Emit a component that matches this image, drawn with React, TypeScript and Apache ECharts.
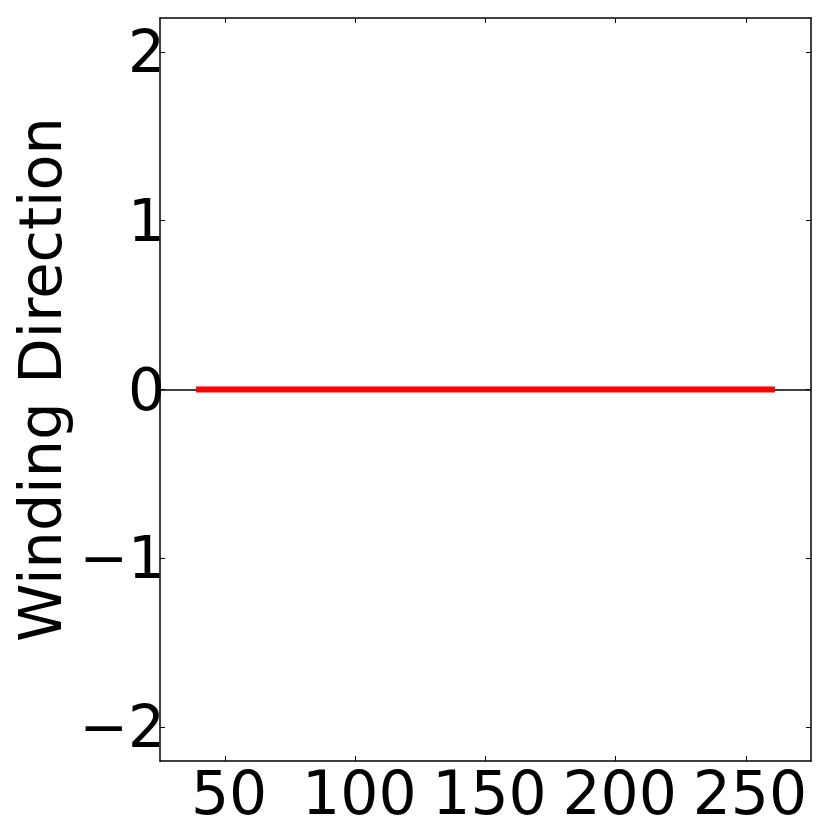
import React, { useEffect, useRef } from "react";
import * as echarts from "echarts";

const xTicks = [50, 100, 150, 200, 250];
const yTicks = [-2, -1, 0, 1, 2];
const xLimits = [25, 275];
const yLimits = [-2.2, 2.2];
const windingX = [40, 260];
const windingY = [0, 0];
const yLabel = "Winding Direction";

const FONT = "DejaVu Sans";

export default function App() {
  const ref = useRef<HTMLDivElement>(null);
  useEffect(() => {
    const chart = echarts.init(ref.current!, null, { renderer: "svg" });
    const axisLine = { show: true, onZero: false, lineStyle: { color: "#000", width: 1.5 } };
    const tickStyle = { color: "#000", width: 1 };
    const minus = (v: number) => String(v).replace("-", "\u2212");
    chart.setOption({
      animation: false,
      backgroundColor: "#fff",
      grid: {
        left: 160,
        top: 18,
        width: 651,
        height: 743,
        containLabel: false,
        outerBoundsMode: "none",
      },
      xAxis: [
        {
          type: "value",
          min: xLimits[0],
          max: xLimits[1],
          position: "bottom",
          axisLine,
          splitLine: { show: false },
          axisTick: { show: true, inside: true, length: 5, lineStyle: tickStyle, customValues: xTicks },
          axisLabel: {
            show: true,
            customValues: xTicks,
            fontFamily: FONT,
            fontSize: 60,
            color: "#000",
            margin: 2,
            padding: [0, 0, 0, 8],
          },
        },
        {
          type: "value",
          min: xLimits[0],
          max: xLimits[1],
          position: "top",
          axisLine,
          splitLine: { show: false },
          axisTick: { show: true, inside: true, length: 5, lineStyle: tickStyle, customValues: xTicks },
          axisLabel: { show: false },
        },
      ],
      yAxis: [
        {
          type: "value",
          min: yLimits[0],
          max: yLimits[1],
          position: "left",
          axisLine,
          splitLine: { show: false },
          axisTick: { show: true, inside: true, length: 5, lineStyle: tickStyle, customValues: yTicks },
          axisLabel: {
            show: true,
            customValues: yTicks,
            formatter: minus,
            fontFamily: FONT,
            fontSize: 58,
            color: "#000",
            margin: -5,
          },
          name: yLabel,
          nameLocation: "middle",
          nameRotate: 90,
          nameGap: 90,
          nameMoveOverlap: false,
          nameTextStyle: {
            fontFamily: FONT,
            fontSize: 59,
            color: "#000",
            padding: [0, 0, 0, 20],
          },
        },
        {
          type: "value",
          min: yLimits[0],
          max: yLimits[1],
          position: "right",
          axisLine,
          splitLine: { show: false },
          axisTick: { show: true, inside: true, length: 5, lineStyle: tickStyle, customValues: yTicks },
          axisLabel: { show: false },
        },
      ],
      series: [
        {
          type: "line",
          data: windingX.map((x, i) => [x, windingY[i]]),
          showSymbol: false,
          symbol: "none",
          lineStyle: { color: "#ff0000", width: 6, cap: "square" },
          z: 3,
          markLine: {
            silent: true,
            symbol: "none",
            label: { show: false },
            lineStyle: { color: "#000", width: 1.5, type: "solid" },
            data: [{ yAxis: 0 }],
            z: 2,
          },
        },
      ],
    });
    return () => chart.dispose();
  }, []);
  return (
    <div
      ref={ref}
      style={{ position: "fixed", left: 0, top: 0, width: 830, height: 830 }}
    />
  );
}
